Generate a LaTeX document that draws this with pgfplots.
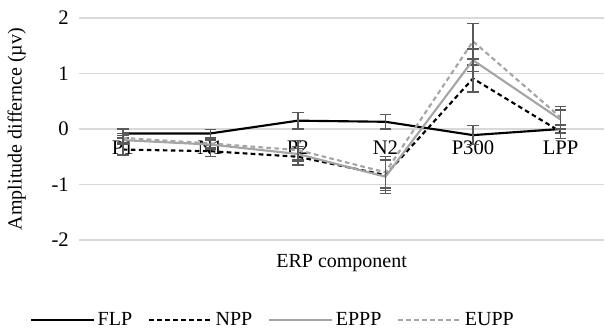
\documentclass[border=0pt]{standalone}
\usepackage{fontspec}
\setmainfont{Liberation Serif}
\usepackage{pgfplots}
\pgfplotsset{compat=1.18}
\definecolor{lgray}{HTML}{A5A5A5}
\definecolor{ebar}{HTML}{595959}
\definecolor{gridc}{HTML}{D9D9D9}
\begin{document}
\begin{tikzpicture}
\begin{axis}[
  name=ax,
  scale only axis,
  width=394pt, height=166.5pt,
  xmin=-0.5, xmax=5.5, ymin=-2, ymax=2,
  axis x line=middle, axis y line=left,
  axis line style={draw=none},
  major tick style={draw=none},
  ytick={-2,-1,0,1,2},
  xtick={0,1,2,3,4,5},
  xticklabels={P1,N1,P2,N2,P300,LPP},
  ymajorgrids, grid style={gridc, line width=0.9pt},
  /pgf/number format/assume math mode=true,
  ticklabel style={font=\fontsize{15.5}{17}\selectfont},
  xticklabel style={anchor=north, yshift=-3pt},
  yticklabel style={xshift=-2pt},
  ylabel={Amplitude differnce (µv)},
  ylabel style={font=\fontsize{15}{17}\selectfont, at={(axis description cs:-0.092,0.5)}, anchor=south},
  xlabel={ERP component},
  xlabel style={font=\fontsize{15}{17}\selectfont, at={(axis description cs:0.5,0)}, anchor=north, yshift=-7pt},
  clip=false,
  legend style={at={(axis description cs:0.37,0)}, anchor=center, yshift=-60pt, draw=none, fill=none,
    legend columns=4, font=\fontsize{15}{17}\selectfont,
    /tikz/every even column/.append style={column sep=10pt}},
  legend image code/.code={\draw[#1] (0pt,0pt) -- (47pt,0pt);},
  error bars/y dir=both, error bars/y explicit,
  error bars/error bar style={color=ebar, line width=1.1pt, solid},
  error bars/error mark options={rotate=90, mark size=4.3pt, color=ebar, line width=1.1pt, solid},
]
\addplot[black, line width=1.6pt, mark=none] coordinates {
 (0,-0.08) +- (0,0.08)
 (1,-0.08) +- (0,0.07)
 (2,0.15) +- (0,0.15)
 (3,0.13) +- (0,0.13)
 (4,-0.11) +- (0,0.17)
 (5,0.0) +- (0,0.07)
};
\addlegendentry{FLP}
\addplot[black, line width=1.6pt, dash pattern=on 3.5pt off 2.5pt, mark=none] coordinates {
 (0,-0.37) +- (0,0.1)
 (1,-0.40) +- (0,0.1)
 (2,-0.50) +- (0,0.15)
 (3,-0.83) +- (0,0.28)
 (4,0.91) +- (0,0.24)
 (5,-0.05) +- (0,0.12)
};
\addlegendentry{NPP}
\addplot[lgray, line width=1.6pt, mark=none] coordinates {
 (0,-0.20) +- (0,0.08)
 (1,-0.28) +- (0,0.08)
 (2,-0.45) +- (0,0.13)
 (3,-0.86) +- (0,0.3)
 (4,1.24) +- (0,0.2)
 (5,0.17) +- (0,0.17)
};
\addlegendentry{EPPP}
\addplot[lgray, line width=1.6pt, dash pattern=on 3.5pt off 2.5pt, mark=none] coordinates {
 (0,-0.16) +- (0,0.08)
 (1,-0.26) +- (0,0.08)
 (2,-0.38) +- (0,0.17)
 (3,-0.78) +- (0,0.28)
 (4,1.58) +- (0,0.32)
 (5,0.21) +- (0,0.2)
};
\addlegendentry{EUPP}
\end{axis}
\pgfresetboundingbox
\path (ax.south west) ++(-59.25pt,-69pt) rectangle ++(454.5pt,249pt);
\end{tikzpicture}
\end{document}
